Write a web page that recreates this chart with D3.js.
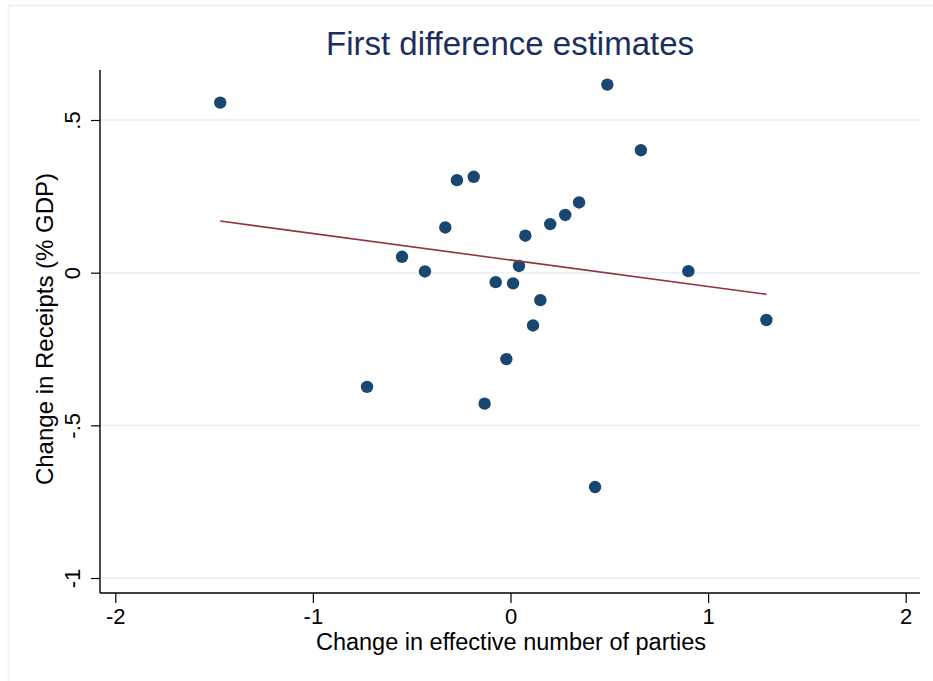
<!DOCTYPE html>
<html>
<head>
<meta charset="utf-8">
<script src="https://cdn.jsdelivr.net/npm/d3@7"></script>
<style>
	html, body { margin: 0; padding: 0; background: white; }
	#outer { width: 933px; height: 681px; }
</style>
</head>
<body>
<div id="outer"></div>
<script>

////////// Data //////////
const partyChange = [-1.469, 0.490, 0.660, -0.271, -0.186, 0.347, 0.277, 0.201, -0.330, 0.075, -0.549, 0.043, -0.433, 0.900, -0.075, 0.013, 0.151, 0.114, 1.295, -0.021, -0.726, -0.131, 0.428];
const receiptsChange = [0.557, 0.616, 0.401, 0.303, 0.314, 0.230, 0.189, 0.159, 0.148, 0.121, 0.052, 0.022, 0.004, 0.005, -0.031, -0.035, -0.090, -0.173, -0.155, -0.283, -0.374, -0.429, -0.702];
const fitX = [-1.469, 1.295];
const fitY = [0.169, -0.071];
const xTicks = [-2, -1, 0, 1, 2];
const yTicks = [-1, -0.5, 0, 0.5];
const xTickLabels = ['-2', '-1', '0', '1', '2'];
const yTickLabels = ['-1', '-.5', '0', '.5'];

function drawChart () {

	////////// Hard Coded Defs //////////
	const width = 933;
	const height = 681;
	const plotLeft = 100;
	const plotRight = 920;
	const plotTop = 70;
	const plotBottom = 593;
	const font = 'Liberation Sans, Arial, Helvetica, sans-serif';
	const navy = '#1a476f';
	const maroon = '#90353b';
	const gridColor = '#eaf2f3';
	const titleColor = '#1b2f5e';

	////////////////////////////////////////////////////////////////
		// Scales
	////////////////////////////////////////////////////////////////
	const x = d3.scaleLinear().domain([-2, 2]).range([115.3, 905.7]);
	const y = d3.scaleLinear().domain([-1, 0.5]).range([578, 120]);

	const points = partyChange.map((d, i) => ({x: d, y: receiptsChange[i]}));
	const fit = fitX.map((d, i) => ({x: d, y: fitY[i]}));

	////////////////////////////////////////////////////////////////
		// DRAW
	////////////////////////////////////////////////////////////////
	const svg = d3.select('#outer').append('svg')
		.attr('width', width)
		.attr('height', height)
		.style('font-family', font);

	// outer graph region frame
	svg.append('rect')
		.attr('x', 8.5)
		.attr('y', 5.5)
		.attr('width', width + 20)
		.attr('height', height + 20)
		.attr('fill', 'white')
		.attr('stroke', gridColor)
		.attr('stroke-width', 1.5);

	// gridlines
	svg.append('g').attr('class', 'grid')
		.selectAll('line')
		.data(yTicks)
		.join('line')
		.attr('x1', plotLeft)
		.attr('x2', plotRight)
		.attr('y1', d => y(d))
		.attr('y2', d => y(d))
		.attr('stroke', gridColor)
		.attr('stroke-width', 1.8);

	// x axis
	const xAxis = svg.append('g')
		.attr('transform', `translate(0, ${plotBottom})`)
		.call(d3.axisBottom(x).tickValues(xTicks).tickFormat((d, i) => xTickLabels[i]).tickSize(10).tickPadding(5).tickSizeOuter(0));
	xAxis.select('.domain').remove();
	xAxis.selectAll('line').attr('stroke', 'black').attr('stroke-width', 1.2);
	xAxis.selectAll('text').style('font-size', '22px').attr('fill', 'black').style('font-family', font);

	// y axis
	const yAxis = svg.append('g')
		.attr('transform', `translate(${plotLeft}, 0)`)
		.call(d3.axisLeft(y).tickValues(yTicks).tickFormat((d, i) => yTickLabels[i]).tickSize(9).tickSizeOuter(0));
	yAxis.select('.domain').remove();
	yAxis.selectAll('line').attr('stroke', 'black').attr('stroke-width', 1.2);
	yAxis.selectAll('text')
		.attr('x', null)
		.attr('dy', null)
		.attr('transform', 'translate(-20, 0) rotate(-90)')
		.attr('text-anchor', 'middle')
		.attr('fill', 'black')
		.style('font-size', '22px')
		.style('font-family', font);

	// axis lines
	svg.append('line')
		.attr('x1', plotLeft).attr('x2', plotLeft)
		.attr('y1', plotTop).attr('y2', plotBottom)
		.attr('stroke', 'black').attr('stroke-width', 1.4);
	svg.append('line')
		.attr('x1', plotLeft).attr('x2', plotRight)
		.attr('y1', plotBottom).attr('y2', plotBottom)
		.attr('stroke', 'black').attr('stroke-width', 1.4);

	// points
	svg.append('g').attr('class', 'points')
		.selectAll('circle')
		.data(points)
		.join('circle')
		.attr('cx', d => x(d.x))
		.attr('cy', d => y(d.y))
		.attr('r', 6.2)
		.attr('fill', navy);

	// fitted line
	svg.append('path')
		.datum(fit)
		.attr('d', d3.line().x(d => x(d.x)).y(d => y(d.y)))
		.attr('fill', 'none')
		.attr('stroke', maroon)
		.attr('stroke-width', 1.6);

	// titles
	svg.append('text')
		.attr('x', 510)
		.attr('y', 55)
		.attr('text-anchor', 'middle')
		.attr('fill', titleColor)
		.style('font-size', '33px')
		.text('First difference estimates');

	svg.append('text')
		.attr('x', 511)
		.attr('y', 650)
		.attr('text-anchor', 'middle')
		.attr('fill', 'black')
		.style('font-size', '23.5px')
		.text('Change in effective number of parties');

	svg.append('text')
		.attr('transform', 'translate(53, 329) rotate(-90)')
		.attr('text-anchor', 'middle')
		.attr('fill', 'black')
		.style('font-size', '24px')
		.text('Change in Receipts (% GDP)');
}

drawChart();
</script>
</body>
</html>
